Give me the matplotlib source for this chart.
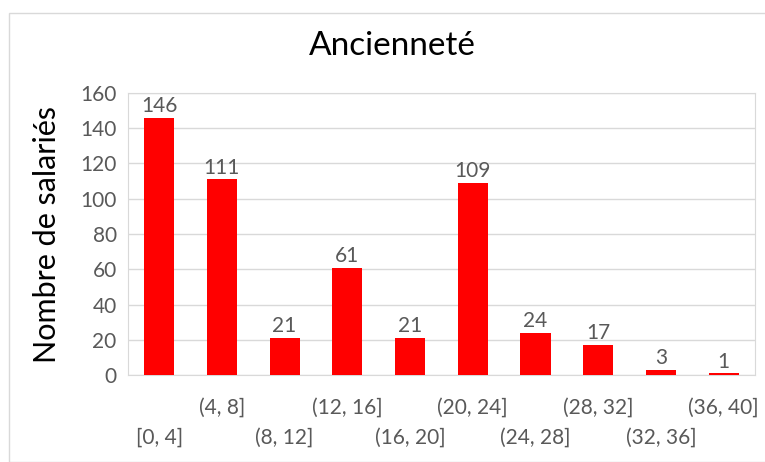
import matplotlib.pyplot as plt
from matplotlib.patches import Rectangle

plt.rcParams['font.family'] = ['Lato', 'DejaVu Sans']

categories = ["[0, 4]", "(4, 8]", "(8, 12]", "(12, 16]", "(16, 20]",
              "(20, 24]", "(24, 28]", "(28, 32]", "(32, 36]", "(36, 40]"]
counts = [146, 111, 21, 61, 21, 109, 24, 17, 3, 1]

grey = "#595959"
light = "#d9d9d9"

fig = plt.figure(figsize=(7.65, 4.62), dpi=100)
fig.patches.append(Rectangle((9 / 765, 0), 1, 1 - 13 / 462, transform=fig.transFigure,
                             fill=False, edgecolor=light, linewidth=1))
ax = fig.add_axes([0.167, 0.188, 0.82, 0.611])

x = list(range(len(categories)))
bars = ax.bar(x, counts, width=0.48, color="#ff0000", zorder=3)
for b, v in zip(bars, counts):
    ax.text(b.get_x() + b.get_width() / 2, v + 1.0, str(v), ha="center", va="bottom",
            fontsize=15, color=grey)

ax.set_xlim(-0.5, len(categories) - 0.5)
ax.set_ylim(0, 160)
ax.set_yticks(range(0, 161, 20))
ax.grid(axis="y", color=light, linewidth=1, zorder=0)

# staggered category labels: odd ones on the upper row, even ones below
ax.set_xticks(x[1::2])
ax.set_xticklabels(categories[1::2], fontsize=15, color=grey)
ax.set_xticks(x[0::2], minor=True)
ax.set_xticklabels(categories[0::2], minor=True, fontsize=15, color=grey)
ax.tick_params(axis="x", which="major", length=0, pad=16)
ax.tick_params(axis="x", which="minor", length=0, pad=38)
ax.tick_params(axis="y", length=0, labelsize=15, labelcolor=grey, pad=8)

for s in ax.spines.values():
    s.set_color(light)

ax.set_ylabel("Nombre de salariés", fontsize=22, color="black", labelpad=14)
fig.text(0.513, 0.9, "Ancienneté", ha="center", va="center", fontsize=24)

plt.savefig("out.png", dpi=100)
